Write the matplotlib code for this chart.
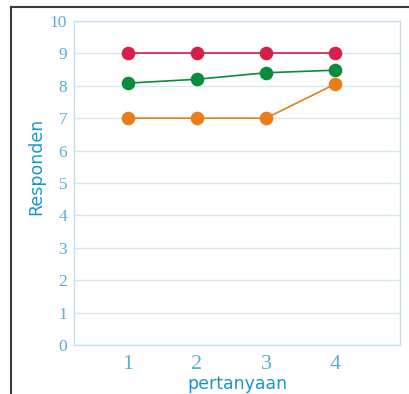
import matplotlib
matplotlib.use("Agg")
import matplotlib.pyplot as plt
from matplotlib.lines import Line2D

# data
pertanyaan = [1, 2, 3, 4]
red_vals = [9, 9, 9, 9]
green_vals = [8.08, 8.2, 8.4, 8.48]
orange_vals = [7, 7, 7, 8.05]
y_ticks = list(range(0, 11))

tick_col = "#5aaed6"
label_col = "#1a96cc"
grid_col = "#d6e9f2"

fig = plt.figure(figsize=(4.09, 3.94), dpi=100)
ax = fig.add_axes([0.181, 0.124, 0.797, 0.823])

series = [
    (red_vals, "#d81e4b"),
    (green_vals, "#0a8c3c"),
    (orange_vals, "#ea7d1a"),
]
for vals, col in series:
    ax.plot(pertanyaan, vals, color=col, lw=1.2, marker="o", ms=9.8,
            markeredgewidth=0, zorder=3)

ax.set_xlim(0.22, 4.94)
ax.set_ylim(0, 10)
ax.set_xticks(pertanyaan)
ax.set_yticks(y_ticks)
ax.set_xticklabels([str(p) for p in pertanyaan], family="Liberation Serif",
                   fontsize=16, color=tick_col)
ax.set_yticklabels([str(t) for t in y_ticks], family="Liberation Serif",
                   fontsize=12.5, color=tick_col)
ax.tick_params(length=0)
ax.tick_params(axis="y", pad=5)
ax.tick_params(axis="x", pad=7)
ax.grid(axis="y", color=grid_col, lw=1)
ax.set_axisbelow(True)
for s in ax.spines.values():
    s.set_color("#c9e0ec")
    s.set_linewidth(1)

ax.set_xlabel("pertanyaan", color=label_col, fontsize=12.5)
ax.xaxis.set_label_coords(0.5, -0.093)
ax.set_ylabel("Responden", color=label_col, fontsize=12.5)
ax.yaxis.set_label_coords(-0.088, 0.55)

# dark frame along the top and left edges of the image
fig.add_artist(Line2D([11 / 409, 1], [1 - 7 / 394, 1 - 7 / 394],
                      transform=fig.transFigure, color="#3a3a3a", lw=1.5))
fig.add_artist(Line2D([11 / 409, 11 / 409], [0, 1 - 7 / 394],
                      transform=fig.transFigure, color="#3a3a3a", lw=1.5))

fig.savefig("out.png", dpi=100)
